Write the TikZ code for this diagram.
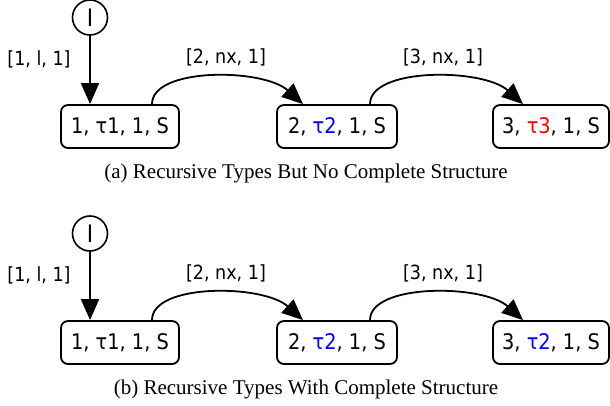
\documentclass[tikz,border=0pt]{standalone}
\usepackage{fontspec}
\setmainfont{Liberation Serif}
\newfontfamily\dv{DejaVu Sans Condensed}
\usetikzlibrary{arrows.meta,calc}
\definecolor{tblue}{RGB}{0,0,255}
\definecolor{tred}{RGB}{255,0,0}
\begin{document}
\begin{tikzpicture}[x=1pt,y=-1pt,
  state/.style={draw,line width=1.8pt,rounded corners=7pt,minimum height=43pt,inner sep=0pt,font=\dv\fontsize{21.5}{24}\selectfont},
  init/.style={draw,circle,line width=1.6pt,minimum size=35pt,inner sep=0pt,font=\dv\fontsize{24}{26}\selectfont},
  lab/.style={font=\dv\fontsize{19.5}{22}\selectfont,inner sep=0pt},
  captext/.style={font=\fontsize{21}{24}\selectfont,inner sep=0pt},
  edge/.style={line width=1.8pt,-{Triangle[length=21pt,width=18pt]}}]
\useasboundingbox (0,0) rectangle (610,406);
\foreach \oy/\pre/\col/\num/\ct in {0/a/tred/3/{(a) Recursive Types But No Complete Structure},216/b/tblue/2/{(b) Recursive Types With Complete Structure}}{
  \node[init] (\pre I) at (90,17.5+\oy) {I};
  \node[state,minimum width=118pt] (\pre b1) at (120,126.5+\oy) {1, τ1, 1, S};
  \node[state,minimum width=120pt] (\pre b2) at (337,126.5+\oy) {2, \textcolor{tblue}{τ2}, 1, S};
  \node[state,minimum width=116pt] (\pre b3) at (551,126.5+\oy) {3, \textcolor{\col}{τ\num}, 1, S};
  \node[lab] (\pre l1) at (39,59+\oy) {[1, l, 1]};
  \node[lab] (\pre l2) at (226,57+\oy) {[2, nx, 1]};
  \node[lab] (\pre l3) at (443,57+\oy) {[3, nx, 1]};
  \node[captext] (\pre cap) at (306,173+\oy) {\ct};
  \draw[edge] (\pre I.south) -- (\pre I.south |- \pre b1.north);
  \draw[edge] ([xshift=32pt]\pre b1.north) .. controls +(0,-37) and +(-40,-36) .. ([xshift=-34pt]\pre b2.north);
  \draw[edge] ([xshift=33pt]\pre b2.north) .. controls +(0,-37) and +(-40,-36) .. ([xshift=-28pt]\pre b3.north);
}
\end{tikzpicture}
\end{document}
